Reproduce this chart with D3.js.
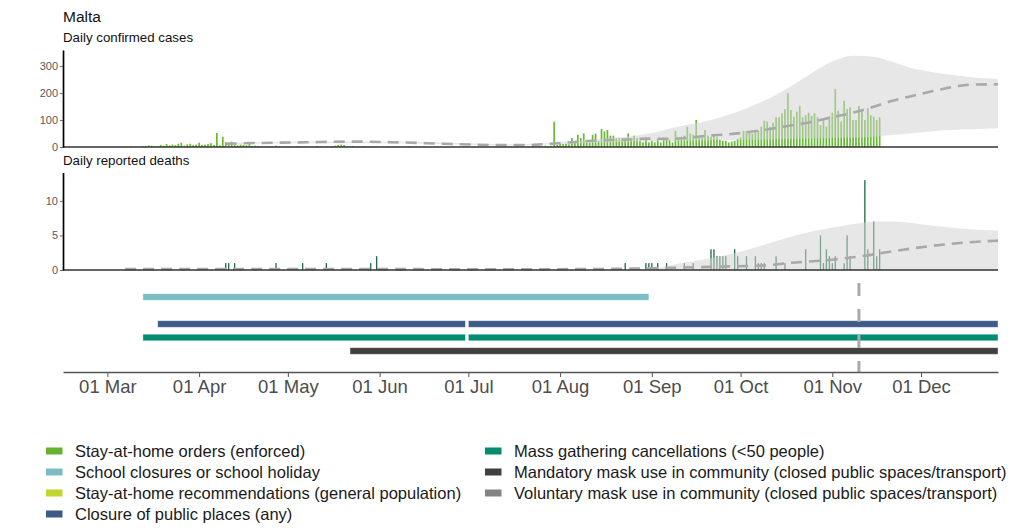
<!DOCTYPE html>
<html><head><meta charset="utf-8">
<script src="https://cdn.jsdelivr.net/npm/d3@7"></script>
<style>body{margin:0;background:#fff;font-family:"Liberation Sans",Arial,sans-serif;} svg{display:block}</style>
</head><body><svg id="c" width="1024" height="531"></svg>
<script>
const countryName = "Malta";
const casesTitle = "Daily confirmed cases";
const deathsTitle = "Daily reported deaths";

// daily confirmed cases starting on casesStart
const casesStart = "2020-03-07";
const casesValues = [
  // Mar 7-31
  1,0,2,0,1,0,3,3,6,5,2,3,8,5,11,6,9,7,12,16,5,10,12,7,9,
  // Apr
  16,8,9,11,14,8,52,6,38,18,16,20,8,6,9,8,6,11,4,5,4,2,3,2,3,1,5,2,0,1,
  // May
  2,1,0,3,2,0,2,1,0,1,4,2,0,2,1,3,5,8,9,7,1,1,4,0,1,2,3,0,1,0,2,
  // Jun
  0,1,0,2,0,1,0,0,1,2,3,1,0,0,0,2,0,1,0,0,0,0,0,0,0,1,0,0,0,0,
  // Jul
  0,0,0,0,0,0,0,0,0,0,0,0,0,0,0,0,0,0,0,0,1,0,2,1,3,2,5,3,4,94,8,
  // Aug
  11,11,12,10,33,17,45,33,50,17,17,45,50,23,67,58,63,42,42,33,33,30,30,50,27,42,33,23,17,30,17,
  // Sep 1-22
  23,17,30,17,27,30,27,17,60,36,38,42,75,50,45,100,33,36,63,42,38,42,
  // Sep 23 - Nov 17
  36,27,23,23,17,20,23,30,36,60,60,53,50,63,60,75,97,94,75,90,110,110,125,
  140,199,137,112,131,152,110,118,127,115,125,110,81,100,75,115,127,214,134,94,
  171,140,147,100,100,152,140,100,143,118,112,100,110
];

const deathDates = ["2020-04-10","2020-04-11","2020-04-13","2020-04-27","2020-05-06","2020-05-14","2020-05-29","2020-05-31",
  "2020-08-23","2020-08-30","2020-08-31","2020-09-01","2020-09-03","2020-09-06","2020-09-12","2020-09-15",
  "2020-09-21","2020-09-22","2020-09-23","2020-09-24","2020-09-25","2020-09-26","2020-09-29","2020-09-30",
  "2020-10-03","2020-10-06","2020-10-07","2020-10-08","2020-10-09","2020-10-13","2020-10-16","2020-10-23",
  "2020-10-28","2020-10-29","2020-10-30","2020-10-31","2020-11-01","2020-11-02","2020-11-05","2020-11-06",
  "2020-11-07","2020-11-12","2020-11-13","2020-11-15","2020-11-16","2020-11-17"];
const deathValues = [1,1,1,1,1,1,1,2,
  1,1,1,1,1,1,1,1,
  3,3,2,2,2,2,3,2,
  2,2,1,1,1,2,1,3,
  5,1,3,2,1,2,1,5,
  2,13,3,7,2,3];

// modelled cases (dashed line) and uncertainty band
const casesModelDates = ["2020-04-10","2020-04-22","2020-05-05","2020-05-23","2020-06-08","2020-06-25","2020-07-14","2020-07-21","2020-07-26",
  "2020-08-03","2020-08-10","2020-08-17","2020-08-24","2020-08-31","2020-09-07","2020-09-13","2020-09-20","2020-09-27",
  "2020-10-03","2020-10-10","2020-10-17","2020-10-25","2020-11-01","2020-11-08","2020-11-15","2020-11-21","2020-11-28",
  "2020-12-05","2020-12-11","2020-12-18","2020-12-27"];
const casesModelValues = [12,15,17,20,17,11,7,7,10,
  16,22,26,28,31,30,34,42,47,
  54,65,78,93,110,127,149,170,189,
  207,221,231,232];
const casesBandDates = ["2020-04-10","2020-05-05","2020-06-08","2020-07-14","2020-07-26","2020-08-03","2020-08-17","2020-08-28",
  "2020-09-11","2020-09-21","2020-10-03","2020-10-14","2020-10-25","2020-11-01","2020-11-08","2020-11-15","2020-11-21",
  "2020-11-28","2020-12-05","2020-12-11","2020-12-18","2020-12-27"];
const casesBandLow  = [9,14,14,5,8,12,17,20,22,25,27,29,31,33,35,38,44,51,58,63,66,69];
const casesBandHigh = [15,20,20,10,13,20,32,44,78,100,143,199,273,316,338,334,316,291,277,267,258,251];

const deathsModelDates = ["2020-03-07","2020-04-15","2020-05-15","2020-06-15","2020-07-15","2020-08-15","2020-09-01","2020-09-11",
  "2020-09-25","2020-10-10","2020-10-17","2020-10-31","2020-11-11","2020-11-22","2020-12-03","2020-12-14","2020-12-27"];
const deathsModelValues = [0.12,0.15,0.15,0.12,0.1,0.15,0.25,0.35,0.5,0.7,1.0,1.45,2.0,2.75,3.4,3.9,4.25];
const deathsBandDates = ["2020-08-25","2020-09-03","2020-09-11","2020-09-21","2020-10-03","2020-10-14","2020-10-25","2020-11-05",
  "2020-11-16","2020-11-22","2020-12-03","2020-12-14","2020-12-27"];
const deathsBandLow  = [0,0,0,0,0,0,0,0,0,0,0,0,0];
const deathsBandHigh = [0.1,0.3,1.0,1.7,2.9,4.3,5.55,6.4,7.0,7.0,6.5,6.0,5.7];

// interventions
const interventionNames = ["Stay-at-home orders (enforced)","School closures or school holiday","Stay-at-home recommendations (general population)",
  "Closure of public places (any)","Mass gathering cancellations (<50 people)","Mandatory mask use in community (closed public spaces/transport)",
  "Voluntary mask use in community (closed public spaces/transport)"];
const interventionColors = ["#66b032","#7bbdc2","#c2d52e","#3e5b88","#008c72","#404040","#838383"];
const segmentRows  = [1,3,3,4,4,5];
const segmentStart = ["2020-03-13","2020-03-18","2020-07-01","2020-03-13","2020-07-01","2020-05-22"];
const segmentEnd   = ["2020-08-31","2020-06-30","2020-12-27","2020-06-30","2020-12-27","2020-12-27"];

const forecastDate = "2020-11-10";
const xDomain = ["2020-02-15","2020-12-27"];
const monthTicks = ["2020-03-01","2020-04-01","2020-05-01","2020-06-01","2020-07-01","2020-08-01","2020-09-01","2020-10-01","2020-11-01","2020-12-01"];
const casesTicks = [0,100,200,300];
const deathsTicks = [0,5,10];

// ---------------------------------------------------------------
const P = d3.utcParse("%Y-%m-%d");
const svg = d3.select("#c");
const L = 63, R = 998;
const x = d3.scaleUtc().domain(xDomain.map(P)).range([L, R]);

const font = '"Liberation Sans",Arial,sans-serif';
svg.append("text").attr("x", 63).attr("y", 21.5).attr("font-size", 15.5).attr("font-family", font).attr("fill", "#111").text(countryName);
svg.append("text").attr("x", 63).attr("y", 41.5).attr("font-size", 13.3).attr("font-family", font).attr("fill", "#111").text(casesTitle);
svg.append("text").attr("x", 63).attr("y", 165).attr("font-size", 13.3).attr("font-family", font).attr("fill", "#111").text(deathsTitle);

function panel(cfg) {
  const y = d3.scaleLinear().domain([0, cfg.max]).range([cfg.bottom, cfg.top]);
  const g = svg.append("g");
  g.selectAll("rect.bar").data(cfg.bars).join("rect")
    .attr("x", d => x(d.date) - cfg.barW / 2).attr("width", cfg.barW)
    .attr("y", d => y(d.v)).attr("height", d => cfg.bottom - y(d.v))
    .attr("fill", cfg.barColor);
  const area = d3.area().x(d => x(d.date)).y0(d => y(d.lo)).y1(d => y(d.hi)).curve(d3.curveMonotoneX);
  g.append("path").datum(cfg.band).attr("d", area).attr("fill", "#d4d4d4").attr("opacity", 0.55);
  const line = d3.line().x(d => x(d.date)).y(d => y(d.v)).curve(d3.curveMonotoneX);
  g.append("path").datum(cfg.model).attr("d", line).attr("fill", "none")
    .attr("stroke", "#a9a9a9").attr("stroke-width", 2.6).attr("stroke-dasharray", "11,7");
  g.append("line").attr("x1", L).attr("x2", R).attr("y1", cfg.bottom).attr("y2", cfg.bottom)
    .attr("stroke", "#333").attr("stroke-width", 1.5);
  const ax = g.append("g").attr("transform", `translate(${L},0)`)
    .call(d3.axisLeft(y).tickValues(cfg.ticks).tickSize(3).tickSizeOuter(0).tickPadding(2));
  ax.select(".domain").attr("stroke", "#000").attr("stroke-width", 1.7);
  ax.selectAll(".tick line").attr("stroke", "#666");
  ax.selectAll(".tick text").attr("font-size", 11).attr("font-family", font).attr("fill", "#595959");
}

const s0 = P(casesStart);
const caseBars = casesValues.map((v, i) => ({date: d3.utcDay.offset(s0, i), v}));
panel({
  top: 50, bottom: 147, max: 359, ticks: casesTicks, barW: 1.7, barColor: "#66bb33",
  bars: caseBars,
  band: casesBandDates.map((d, i) => ({date: P(d), lo: casesBandLow[i], hi: casesBandHigh[i]})),
  model: casesModelDates.map((d, i) => ({date: P(d), v: casesModelValues[i]}))
});
panel({
  top: 172.5, bottom: 270, max: 14.1, ticks: deathsTicks, barW: 1.3, barColor: "#1d6b44",
  bars: deathDates.map((d, i) => ({date: P(d), v: deathValues[i]})),
  band: deathsBandDates.map((d, i) => ({date: P(d), lo: deathsBandLow[i], hi: deathsBandHigh[i]})),
  model: deathsModelDates.map((d, i) => ({date: P(d), v: deathsModelValues[i]}))
});

// interventions timeline
const yRow = d3.scalePoint().domain(d3.range(interventionNames.length)).range([283.5, 364.5]);
const segs = segmentRows.map((r, i) => ({r, s: P(segmentStart[i]), e: P(segmentEnd[i])}));
svg.append("g").selectAll("rect").data(segs).join("rect")
  .attr("x", d => x(d.s)).attr("width", d => x(d.e) - x(d.s))
  .attr("y", d => yRow(d.r) - 3.3).attr("height", 6.6)
  .attr("fill", d => interventionColors[d.r])
  .attr("stroke", "#ffffff").attr("stroke-opacity", 0.5).attr("stroke-width", 0.8);

svg.append("line").attr("x1", x(P(forecastDate))).attr("x2", x(P(forecastDate)))
  .attr("y1", 283).attr("y2", 372).attr("stroke", "#aaaaaa").attr("stroke-width", 3)
  .attr("stroke-dasharray", "13,13");

const xa = svg.append("g").attr("transform", "translate(0,372)")
  .call(d3.axisBottom(x).tickValues(monthTicks.map(P)).tickFormat(d3.utcFormat("%d %b")).tickSize(5).tickSizeOuter(0));
xa.select(".domain").attr("stroke", "#555").attr("stroke-width", 1.4);
xa.selectAll(".tick line").attr("stroke", "#555");
xa.selectAll(".tick text").attr("font-size", 18.5).attr("font-family", font).attr("fill", "#4d4d4d");

// legend
const legendCols = [[0,1,2,3],[4,5,6]];
const colX = [46, 485];
legendCols.forEach((items, c) => {
  items.forEach((k, j) => {
    const cy = 451 + j * 21;
    svg.append("rect").attr("x", colX[c]).attr("y", cy - 3.5).attr("width", 16.5).attr("height", 7)
      .attr("fill", interventionColors[k]);
    svg.append("text").attr("x", colX[c] + 29).attr("y", cy).attr("dy", "0.35em")
      .attr("font-size", 16.5).attr("font-family", font).attr("fill", "#1a1a1a").text(interventionNames[k]);
  });
});
</script></body></html>
